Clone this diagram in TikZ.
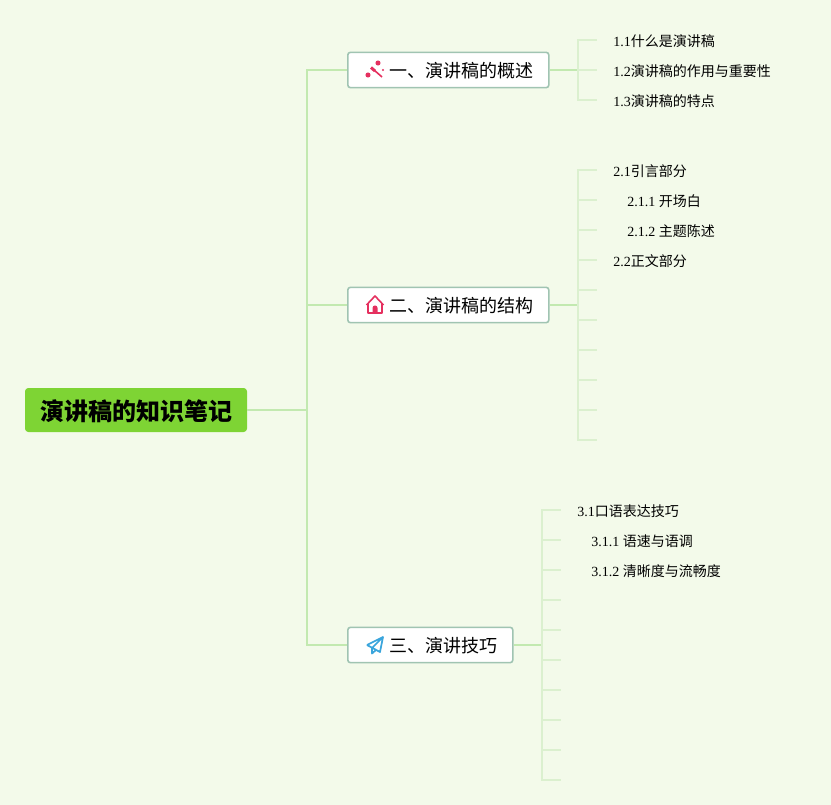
\documentclass[tikz,border=0pt]{standalone}
\usepackage{fontspec}
\setmainfont{Liberation Serif}
\newfontfamily\cjk{Noto Sans CJK SC}
\usetikzlibrary{calc,positioning}
\definecolor{paper}{HTML}{F3FAEA}
\definecolor{rootgreen}{HTML}{7ED434}
\definecolor{mainline}{HTML}{C2E9B0}
\definecolor{leafline}{HTML}{DBF0CF}
\definecolor{boxline}{HTML}{A0C4B2}
\definecolor{iconred}{HTML}{E5305F}
\definecolor{iconblue}{HTML}{3AA5DC}
\tikzset{
	x=0.75pt,
	y=-0.75pt,
	mainedge/.style={draw=mainline, line width=1.1pt},
	leafedge/.style={draw=leafline, line width=1.1pt},
	rootbox/.style={fill=rootgreen, rounded corners=2.5pt, minimum height=33pt, inner xsep=11.25pt, text height=18pt, text depth=2.2pt, font=\cjk\fontsize{18}{18}\selectfont\bfseries},
	branchbox/.style={draw=boxline, line width=1.2pt, fill=white, rounded corners=2pt, minimum height=26.5pt, inner xsep=11.25pt, text height=14pt, text depth=2.3pt, font=\cjk\fontsize{13.5}{14}\selectfont},
	leaftext/.style={anchor=west, inner xsep=12pt, inner ysep=0pt, text height=11pt, text depth=1.7pt, font=\fontsize{10.5}{12}\selectfont},
}

\begin{document}
\begin{tikzpicture}
	\fill[paper] (0,0) rectangle (831,805);

	% root and first level
	\node[rootbox] (root) at (136,410) {演讲稿的知识笔记};
	\node[branchbox, anchor=west] (intro) at (347,70) {\hspace*{20.25pt}一、演讲稿的概述};
	\node[branchbox, anchor=west] (struct) at (347,305) {\hspace*{20.25pt}二、演讲稿的结构};
	\node[branchbox, anchor=west] (skill) at (347,645) {\hspace*{20.25pt}三、演讲技巧};

	\coordinate (trunk) at (307,410);
	\draw[mainedge] (root.east) -- (trunk);
	\draw[mainedge] (trunk) |- (intro.west);
	\draw[mainedge] (trunk) |- (struct.west);
	\draw[mainedge] (trunk) |- (skill.west);

	% icons
	\begin{scope}[shift={(intro.west)}]
		\draw[iconred, line width=1.2pt] (27,0) -- (35,7);
		\draw[iconred, line width=2.2pt] (24,-2.5) -- (28,1);
		\fill[iconred] (21,5) circle (1.9pt) (31,-7) circle (1.9pt) (36,0) circle (0.8pt);
	\end{scope}
	\begin{scope}[shift={(struct.west)}]
		\draw[iconred, line width=1.2pt, line join=round] (19.5,0) -- (28,-9) -- (36.5,0) (21,-1.5) -- (21,8) -- (35,8) -- (35,-1.5);
		\fill[iconred] (25.5,8) -- (25.5,3) arc[start angle=180, end angle=0, radius=1.9pt] -- (30.5,8) -- cycle;
	\end{scope}
	\begin{scope}[shift={(skill.west)}]
		\draw[iconblue, line width=1.3pt, line join=round] (20,0) -- (36,-8) -- (33,7) -- (20,0) (36,-8) -- (25,3) -- (25,8.5) -- (29.5,4.5);
	\end{scope}

	% leaves of the first branch
	\coordinate (introfork) at (578,70);
	\draw[mainedge] (intro.east) -- (introfork);
	\node[leaftext] (l11) at (597,40) {1.1{\cjk 什么是演讲稿}};
	\node[leaftext] (l12) at (597,70) {1.2{\cjk 演讲稿的作用与重要性}};
	\node[leaftext] (l13) at (597,100) {1.3{\cjk 演讲稿的特点}};
	\foreach \leaf in {l11,l12,l13}
		\draw[leafedge] (introfork) |- (\leaf.west);

	% leaves of the second branch
	\coordinate (structfork) at (578,305);
	\draw[mainedge] (struct.east) -- (structfork);
	\node[leaftext] (l21) at (597,170) {2.1{\cjk 引言部分}};
	\node[leaftext] (l211) at (597,200) {\hspace*{10.5pt}2.1.1 {\cjk 开场白}};
	\node[leaftext] (l212) at (597,230) {\hspace*{10.5pt}2.1.2 {\cjk 主题陈述}};
	\node[leaftext] (l22) at (597,260) {2.2{\cjk 正文部分}};
	\foreach \leaf in {l21,l211,l212,l22}
		\draw[leafedge] (structfork) |- (\leaf.west);
	\foreach \y in {290,320,...,440} {
		\coordinate (e\y) at (597,\y);
		\draw[leafedge] (structfork) |- (e\y);
	}

	% leaves of the third branch
	\coordinate (skillfork) at (542,645);
	\draw[mainedge] (skill.east) -- (skillfork);
	\node[leaftext] (l31) at (561,510) {3.1{\cjk 口语表达技巧}};
	\node[leaftext] (l311) at (561,540) {\hspace*{10.5pt}3.1.1 {\cjk 语速与语调}};
	\node[leaftext] (l312) at (561,570) {\hspace*{10.5pt}3.1.2 {\cjk 清晰度与流畅度}};
	\foreach \leaf in {l31,l311,l312}
		\draw[leafedge] (skillfork) |- (\leaf.west);
	\foreach \y in {600,630,...,780} {
		\coordinate (f\y) at (561,\y);
		\draw[leafedge] (skillfork) |- (f\y);
	}
\end{tikzpicture}
\end{document}
